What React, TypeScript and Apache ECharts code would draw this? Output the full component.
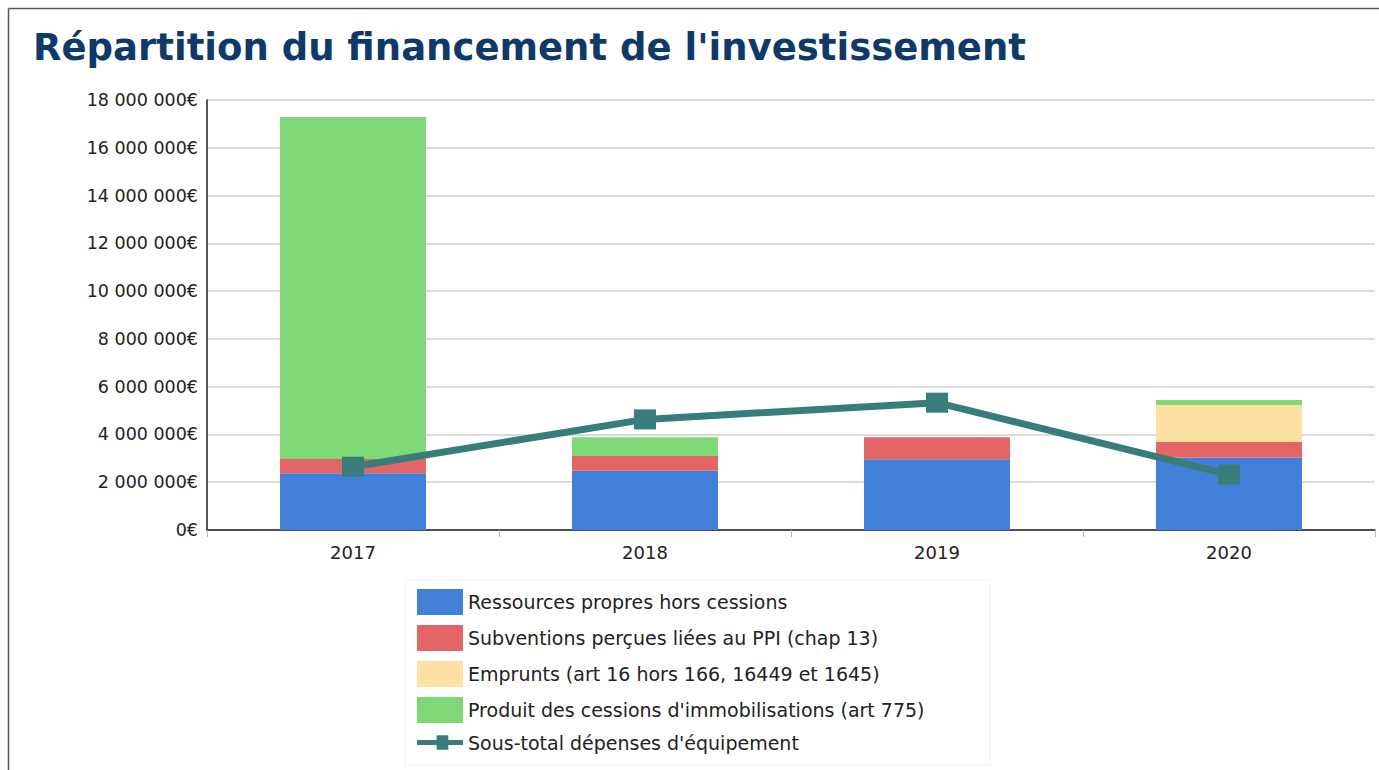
import React, { useEffect, useRef } from "react";
import * as echarts from "echarts";

const categories = ["2017", "2018", "2019", "2020"];
const ressourcesPropres = [2380000, 2480000, 2960000, 3030000];
const subventions = [590000, 620000, 920000, 650000];
const emprunts = [0, 0, 0, 1550000];
const cessions = [14320000, 780000, 0, 210000];
const sousTotal = [2650000, 4630000, 5330000, 2320000];
const yTicks = { min: 0, max: 18000000, interval: 2000000 };

const seriesNames = [
  "Ressources propres hors cessions",
  "Subventions perçues liées au PPI (chap 13)",
  "Emprunts (art 16 hors 166, 16449 et 1645)",
  "Produit des cessions d'immobilisations (art 775)",
  "Sous-total dépenses d'équipement",
];

const fmt = (v: number) =>
  String(Math.round(v)).replace(/\B(?=(\d{3})+(?!\d))/g, " ") + "€";

export default function App() {
  const ref = useRef<HTMLDivElement>(null);
  useEffect(() => {
    if (!ref.current) return;
    const chart = echarts.init(ref.current, undefined, { renderer: "svg" });
    const font = "DejaVu Sans";
    const bar = (name: string, data: number[], color: string) => ({
      name,
      type: "bar",
      stack: "total",
      data,
      barWidth: "50%",
      itemStyle: { color },
    });
    chart.setOption({
      animation: false,
      backgroundColor: "#ffffff",
      textStyle: { fontFamily: font },
      title: {
        text: "Répartition du financement de l'investissement",
        left: 28,
        top: 24,
        textStyle: { fontFamily: font, fontWeight: "bold", fontSize: 37, color: "#0f3a68" },
      },
      graphic: [
        { type: "line", shape: { x1: 8.5, y1: 8.5, x2: 1379, y2: 8.5 }, style: { stroke: "#555", lineWidth: 1.5 } },
        { type: "line", shape: { x1: 8.5, y1: 8.5, x2: 8.5, y2: 770 }, style: { stroke: "#555", lineWidth: 1.5 } },
        {
          type: "rect",
          shape: { x: 405, y: 580, width: 585, height: 185 },
          style: { fill: "#fff", stroke: "#f2f2f2", lineWidth: 1 },
          z: -1,
        },
      ],
      grid: { left: 207, right: 4, top: 100, bottom: 240, containLabel: false },
      legend: {
        orient: "vertical",
        left: 412,
        top: 584,
        itemWidth: 46,
        itemHeight: 26,
        itemGap: 10,
        textStyle: { fontFamily: font, fontSize: 19, color: "#222" },
        data: seriesNames.map((n, i) =>
          i === 4
            ? { name: n, icon: "path://M0,5 L20,5 L20,0 L32,0 L32,5 L47,5 L47,10 L32,10 L32,15 L20,15 L20,10 L0,10 Z" }
            : { name: n, icon: "rect" }
        ),
      },
      xAxis: {
        type: "category",
        data: categories,
        axisLine: { lineStyle: { color: "#222", width: 1.5 } },
        axisTick: { show: true, length: 7, lineStyle: { color: "#bbb" } },
        axisLabel: { fontFamily: font, fontSize: 18, color: "#222", margin: 13 },
      },
      yAxis: {
        type: "value",
        min: yTicks.min,
        max: yTicks.max,
        interval: yTicks.interval,
        axisLine: { show: true, lineStyle: { color: "#222", width: 1.5 } },
        axisTick: { show: false },
        splitLine: { lineStyle: { color: "#cfcfcf", width: 1.5 } },
        axisLabel: { fontFamily: font, fontSize: 17.5, color: "#222", margin: 9, formatter: fmt },
      },
      series: [
        bar(seriesNames[0], ressourcesPropres, "#4080d8"),
        bar(seriesNames[1], subventions, "#e36565"),
        bar(seriesNames[2], emprunts, "#fde0a2"),
        bar(seriesNames[3], cessions, "#80d978"),
        {
          name: seriesNames[4],
          type: "line",
          data: sousTotal,
          symbol: "rect",
          symbolSize: [22, 20],
          lineStyle: { color: "#387d7a", width: 7 },
          itemStyle: { color: "#387d7a" },
          z: 5,
        },
      ],
    });
    return () => chart.dispose();
  }, []);
  return (
    <div
      ref={ref}
      style={{ position: "fixed", left: 0, top: 0, width: 1379, height: 770 }}
    />
  );
}
